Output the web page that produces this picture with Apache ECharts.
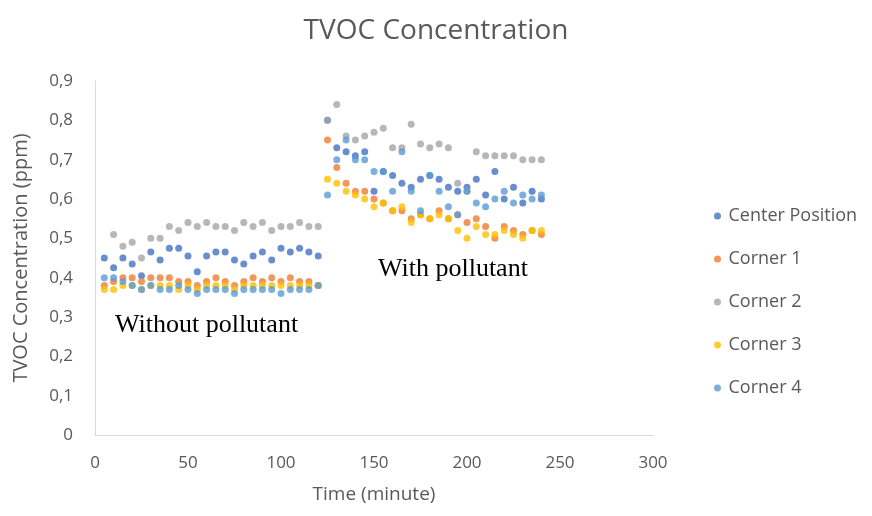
<!DOCTYPE html>
<html>
<head>
<meta charset="utf-8">
<script src="https://cdn.jsdelivr.net/npm/echarts@6/dist/echarts.min.js"></script>
<style>html,body{margin:0;padding:0;background:#fff}#c{width:872px;height:516px}</style>
</head>
<body>
<div id="c"></div>
<script>
const times = [5,10,15,20,25,30,35,40,45,50,55,60,65,70,75,80,85,90,95,100,105,110,115,120,
  125,130,135,140,145,150,155,160,165,170,175,180,185,190,195,200,205,210,215,220,225,230,235,240];

const centerPosition = [0.45,0.425,0.45,0.435,0.405,0.465,0.445,0.475,0.475,0.455,0.415,0.455,0.465,0.465,0.445,0.435,0.455,0.465,0.445,0.475,0.465,0.475,0.465,0.455,
  0.80,0.73,0.72,0.71,0.72,0.62,0.67,0.66,0.64,0.63,0.65,0.66,0.65,0.63,0.62,0.63,0.65,0.61,0.67,0.60,0.63,0.59,0.62,0.60];
const corner1 = [0.38,0.39,0.40,0.40,0.39,0.40,0.40,0.40,0.39,0.39,0.38,0.39,0.40,0.39,0.38,0.39,0.40,0.39,0.40,0.39,0.40,0.39,0.39,0.38,
  0.75,0.68,0.64,0.62,0.62,0.60,0.59,0.57,0.57,0.55,0.56,0.55,0.57,0.55,0.56,0.54,0.55,0.53,0.50,0.53,0.52,0.51,0.52,0.51];
const corner2 = [null,0.51,0.48,0.49,0.45,0.50,0.50,0.53,0.52,0.54,0.53,0.54,0.53,0.53,0.52,0.54,0.53,0.54,0.52,0.53,0.53,0.54,0.53,0.53,
  0.80,0.84,0.76,0.75,0.76,0.77,0.78,0.73,0.73,0.79,0.74,0.73,0.74,0.73,0.64,0.62,0.72,0.71,0.71,0.71,0.71,0.70,0.70,0.70];
const corner3 = [0.37,0.37,0.38,0.38,0.37,0.38,0.38,0.38,0.37,0.38,0.37,0.38,0.38,0.38,0.37,0.38,0.38,0.38,0.38,0.38,0.38,0.38,0.38,0.38,
  0.65,0.64,0.62,0.61,0.60,0.58,0.59,0.57,0.58,0.54,0.56,0.55,0.56,0.55,0.52,0.50,0.53,0.51,0.51,0.52,0.51,0.50,0.52,0.52];
const corner4 = [0.40,0.40,0.39,0.38,0.37,0.38,0.37,0.37,0.38,0.37,0.36,0.37,0.37,0.37,0.36,0.37,0.37,0.37,0.37,0.36,0.37,0.37,0.37,0.38,
  0.61,0.70,0.75,0.70,0.70,0.67,0.67,0.62,0.72,0.62,0.57,0.66,0.62,0.58,0.56,0.62,0.59,0.58,0.60,0.62,0.59,0.61,0.60,0.61];

const seriesNames = ['Center Position','Corner 1','Corner 2','Corner 3','Corner 4'];
const seriesValues = [centerPosition, corner1, corner2, corner3, corner4];
const colors = ['#4472C4','#ED7D31','#A5A5A5','#FFC000','#5B9BD5'];

const chart = echarts.init(document.getElementById('c'));
const txt = '#595959';
chart.setOption({
  animation: false,
  color: colors,
  title: {
    text: 'TVOC Concentration', left: 'center', top: 12,
    textStyle: {fontFamily: 'Open Sans', fontSize: 28, fontWeight: 'normal', color: txt}
  },
  grid: {left: 95, right: 219, top: 81, bottom: 81},
  legend: {
    orient: 'vertical', left: 709, top: 202, itemGap: 25, itemWidth: 12, itemHeight: 7,
    icon: 'circle',
    textStyle: {fontFamily: 'Open Sans', fontSize: 18, lineHeight: 18, color: txt},
    data: seriesNames
  },
  xAxis: {
    type: 'value', min: 0, max: 300, interval: 50,
    name: 'Time (minute)', nameLocation: 'middle', nameGap: 50,
    nameTextStyle: {fontFamily: 'Open Sans', fontSize: 19, color: txt},
    axisLine: {show: true, lineStyle: {color: '#d9d9d9'}},
    axisTick: {show: false},
    splitLine: {show: false},
    axisLabel: {fontFamily: 'Open Sans', fontSize: 17, color: txt, margin: 20}
  },
  yAxis: {
    type: 'value', min: 0, max: 0.9, interval: 0.1,
    name: 'TVOC Concentration (ppm)', nameLocation: 'middle', nameGap: 64,
    nameTextStyle: {fontFamily: 'Open Sans', fontSize: 20, color: txt},
    axisLine: {show: true, lineStyle: {color: '#d9d9d9'}},
    axisTick: {show: false},
    splitLine: {show: false},
    axisLabel: {fontFamily: 'Open Sans', fontSize: 17, color: txt, margin: 22,
      formatter: v => (Math.round(v*10)/10).toString().replace('.', ',')}
  },
  graphic: [
    {type: 'text', left: 115, top: 312, style: {text: 'Without pollutant', font: '26px "Liberation Serif"', fill: '#000'}},
    {type: 'text', left: 378, top: 256, style: {text: 'With pollutant', font: '26px "Liberation Serif"', fill: '#000'}}
  ],
  series: seriesNames.map((n, i) => ({
    name: n, type: 'scatter', symbolSize: 7,
    data: times.map((t, j) => [t, seriesValues[i][j]]).filter(d => d[1] != null)
  }))
});
</script>
</body>
</html>
